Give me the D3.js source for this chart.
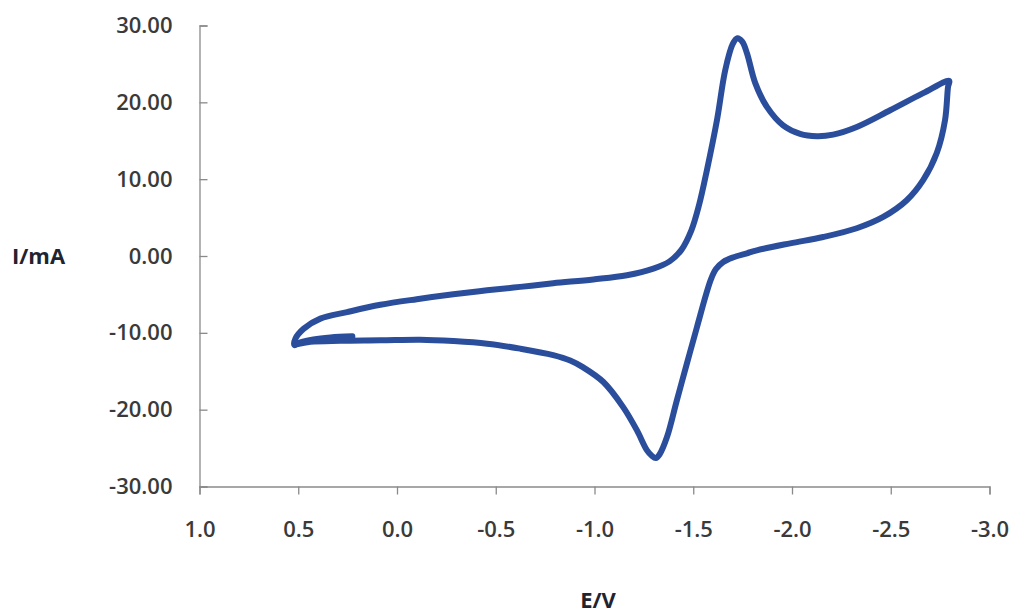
<!DOCTYPE html>
<html>
<head>
<meta charset="utf-8">
<script src="https://cdn.jsdelivr.net/npm/d3@7"></script>
<style>
  html, body { margin: 0; padding: 0; background: #ffffff; }
  svg { display: block; }
  text { font-family: "Open Sans", "Liberation Sans", sans-serif; }
</style>
</head>
<body>
<svg id="chart" width="1013" height="613"></svg>
<script>
// Potential (V) in scan order
const potential = [
  0.226, 0.337, 0.423, 0.489, 0.519,
  0.514, 0.472, 0.388, 0.253, 0.084, -0.100, -0.285, -0.456, -0.624, -0.791,
  -0.994, -1.164, -1.298, -1.380, -1.440, -1.490, -1.530, -1.569, -1.620, -1.662, -1.700, -1.723,
  -1.748, -1.772, -1.814, -1.873, -1.955, -2.041, -2.126, -2.208, -2.328, -2.497, -2.664, -2.796,
  -2.790, -2.775, -2.733, -2.664, -2.581, -2.462, -2.328, -2.158, -1.991, -1.822, -1.772, -1.700,
  -1.652, -1.615, -1.590, -1.565, -1.519, -1.468, -1.417, -1.367, -1.330, -1.310,
  -1.290, -1.266, -1.215, -1.146, -1.045, -0.943, -0.877, -0.791, -0.624, -0.456, -0.285,
  -0.118, 0.084, 0.286, 0.438, 0.509
];
// Current (mA) in scan order
const current = [
  -10.46, -10.60, -10.85, -11.24, -11.60,
  -10.75, -9.45, -8.15, -7.30, -6.35, -5.62, -4.98, -4.47, -4.02, -3.55,
  -3.05, -2.51, -1.65, -0.70, 0.80, 3.30, 6.70, 11.16, 17.67, 24.20, 27.60, 28.35,
  27.90, 26.40, 22.50, 19.40, 17.00, 15.90, 15.60, 15.80, 16.80, 18.97, 21.20, 22.80,
  22.00, 17.70, 13.40, 9.86, 7.25, 5.08, 3.61, 2.47, 1.65, 0.74, 0.35, -0.20,
  -0.78, -1.70, -3.00, -5.00, -9.24, -13.97, -18.79, -23.57, -25.80, -26.30,
  -26.00, -25.30, -22.70, -19.70, -16.40, -14.50, -13.60, -12.90, -12.06, -11.41, -11.07,
  -10.89, -10.98, -11.04, -11.17, -11.50
];
const xTicks = [1.0, 0.5, 0.0, -0.5, -1.0, -1.5, -2.0, -2.5, -3.0];
const yTicks = [30, 20, 10, 0, -10, -20, -30];
const xLabel = "E/V";
const yLabel = "I/mA";

const svg = d3.select("#chart");
const x = d3.scaleLinear().domain([1.0, -3.0]).range([199.5, 989.5]);
const y = d3.scaleLinear().domain([-30, 30]).range([486.5, 25.5]);

const axisColor = "#8a8a8a";
const labelColor = "#3a3a3a";
const hy = s => s.replace("\u2212", "-");
const fx = d => hy(d3.format(".1f")(d));
const fy = d => hy(d3.format(".2f")(d));

// X axis
const gx = svg.append("g").attr("transform", `translate(0,${y(-30)})`)
  .call(d3.axisBottom(x).tickValues(xTicks).tickSize(8).tickPadding(27).tickFormat(fx));
gx.select(".domain").attr("stroke", axisColor).attr("stroke-width", 1.3);
gx.selectAll(".tick line").attr("stroke", axisColor).attr("stroke-width", 1.3);
gx.selectAll(".tick text").attr("fill", labelColor)
  .style("font-size", "22px").style("font-weight", 600)
  .attr("font-family", null);

// Y axis (ticks inside)
const gy = svg.append("g").attr("transform", `translate(${x(1.0)},0)`)
  .call(d3.axisLeft(y).tickValues(yTicks).tickSize(-8).tickPadding(27).tickFormat(fy));
gy.select(".domain").attr("stroke", axisColor).attr("stroke-width", 1.3);
gy.selectAll(".tick line").attr("stroke", axisColor).attr("stroke-width", 1.3);
gy.selectAll(".tick text").attr("fill", labelColor)
  .style("font-size", "22px").style("font-weight", 600)
  .attr("font-family", null);

// Curve
const pts = potential.map((e, i) => [e, current[i]]);
const line = d3.line().x(d => x(d[0])).y(d => y(d[1])).curve(d3.curveCatmullRom.alpha(0.5));
svg.append("path").datum(pts).attr("d", line)
  .attr("fill", "none").attr("stroke", "#2b4e9c").attr("stroke-width", 6)
  .attr("stroke-linejoin", "round").attr("stroke-linecap", "round");

// Axis titles
svg.append("text").attr("x", 12).attr("y", 256).attr("dy", "0.35em")
  .attr("fill", "#1f2430").style("font-size", "22px").style("font-weight", 700)
  .text(yLabel);
svg.append("text").attr("x", 598).attr("y", 600).attr("dy", "0.35em")
  .attr("text-anchor", "middle")
  .attr("fill", "#1f2430").style("font-size", "22px").style("font-weight", 700)
  .text(xLabel);
</script>
</body>
</html>
